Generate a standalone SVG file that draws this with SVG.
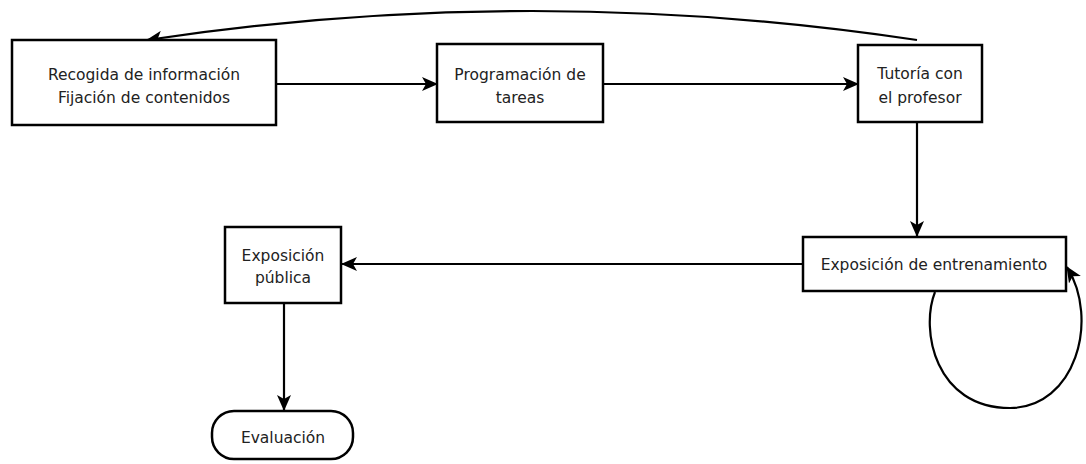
<svg xmlns="http://www.w3.org/2000/svg" width="1086" height="464" viewBox="0 0 1086 464">
<style>
.box{fill:#fff;stroke:#000;stroke-width:2.5}
.t{font-family:"DejaVu Sans",sans-serif;font-size:15.5px;fill:#222;text-anchor:middle}
.c{fill:none;stroke:#000;stroke-width:2.2}
</style>
<defs>
<marker id="ah" viewBox="0 0 16 14" refX="15" refY="7" markerWidth="16" markerHeight="14" markerUnits="userSpaceOnUse" orient="auto">
<path d="M0,0 L16,7 L0,14 L4,7 z" fill="#000"/>
</marker>
</defs>
<rect width="1086" height="464" fill="#fff"/>
<g id="connectors">
<path class="c" d="M276 84 L437 84" marker-end="url(#ah)"/>
<path class="c" d="M603 84 L858 84" marker-end="url(#ah)"/>
<path class="c" d="M917 40 Q532 -18 147 40" marker-end="url(#ah)"/>
<path class="c" d="M917 122 L917 236" marker-end="url(#ah)"/>
<path class="c" d="M803 264 L342 264" marker-end="url(#ah)"/>
<path class="c" d="M284 303 L284 410" marker-end="url(#ah)"/>
<path class="c" d="M935 292 C920 330 935 408 1010 408 C1075 408 1100 320 1067 267" marker-end="url(#ah)"/>
</g>
<g id="n1"><rect class="box" x="12" y="40" width="264" height="85"/>
<text class="t" x="144" y="80">Recogida de información</text><text class="t" x="144" y="103">Fijación de contenidos</text></g>
<g id="n2"><rect class="box" x="437" y="44" width="166" height="78"/>
<text class="t" x="520" y="80">Programación de</text><text class="t" x="520" y="103">tareas</text></g>
<g id="n3"><rect class="box" x="858" y="45" width="124" height="77"/>
<text class="t" x="920" y="79">Tutoría con</text><text class="t" x="920" y="103">el profesor</text></g>
<g id="n4"><rect class="box" x="803" y="237" width="263" height="54"/>
<text class="t" x="934" y="270">Exposición de entrenamiento</text></g>
<g id="n5"><rect class="box" x="225" y="227" width="116" height="76"/>
<text class="t" x="283" y="261">Exposición</text><text class="t" x="283" y="283">pública</text></g>
<g id="n6"><rect class="box" x="212" y="411" width="141" height="48" rx="22" ry="22"/>
<text class="t" x="283" y="443">Evaluación</text></g>
</svg>
